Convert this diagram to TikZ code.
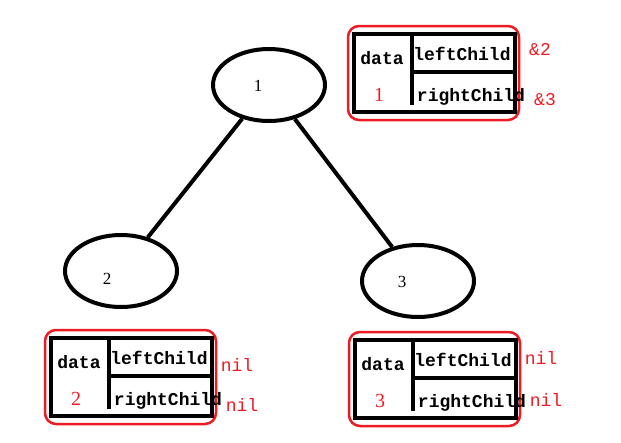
\documentclass[tikz,border=0pt]{standalone}
\usepackage{fontspec}
\setmainfont{Liberation Serif}
\setmonofont{Liberation Mono}
\usetikzlibrary{shapes}
\definecolor{penred}{RGB}{237,28,36}

\begin{document}
\begin{tikzpicture}[x=1pt,y=-1pt]
\tikzstyle{bubble}=[ellipse,draw,line width=4pt,minimum width=112pt,minimum height=72pt,inner sep=0pt]
\tikzstyle{key}=[inner sep=0pt,font=\fontsize{17}{17}\selectfont]
\tikzstyle{frame}=[draw=penred,line width=2.5pt,rounded corners=11pt]
\tikzstyle{cell}=[draw,line width=3.5pt]
\tikzstyle{field}=[inner sep=0pt,font=\ttfamily\bfseries\fontsize{18}{18}\selectfont]
\tikzstyle{val}=[inner sep=0pt,text=penred,font=\fontsize{20}{20}\selectfont]
\tikzstyle{ptr}=[inner sep=0pt,text=penred,font=\ttfamily\fontsize{18}{18}\selectfont]
\useasboundingbox (0,0) rectangle (621,442);
\node[bubble] (n1) at (269,85) {};
\node[bubble] (n2) at (121,271) {};
\node[bubble] (n3) at (418,281) {};
\node[key] (k1) at (258,86) {1};
\node[key] (k2) at (107,279) {2};
\node[key] (k3) at (402,282) {3};
\draw[line width=4pt] (n1) -- (n2);
\draw[line width=4pt] (n1) -- (n3);
\foreach \i/\x/\y/\ta/\ya/\tb/\yb in {1/354/34/\&2/16/\&3/66,2/51/338/nil/27/nil/67,3/355/340/nil/18/nil/60}
{
 \draw[frame] (\x-6,\y-8) rectangle (\x+165,\y+86);
 \draw[cell] (\x,\y) rectangle (\x+161,\y+78);
 \draw[cell] (\x+58,\y) -- (\x+58,\y+71);
 \draw[cell] (\x+58,\y+38) -- (\x+161,\y+38);
 \node[field] (d\i) at (\x+28,\y+24) {data};
 \node[val] (v\i) at (\x+25,\y+61) {\i};
 \node[field] (l\i) at (\x+108,\y+20) {leftChild};
 \node[field] (r\i) at (\x+117,\y+63) {rightChild};
 \node[ptr] (a\i) at (\x+186,\y+\ya) {\ta};
 \node[ptr] (b\i) at (\x+191,\y+\yb) {\tb};
}
\end{tikzpicture}
\end{document}
